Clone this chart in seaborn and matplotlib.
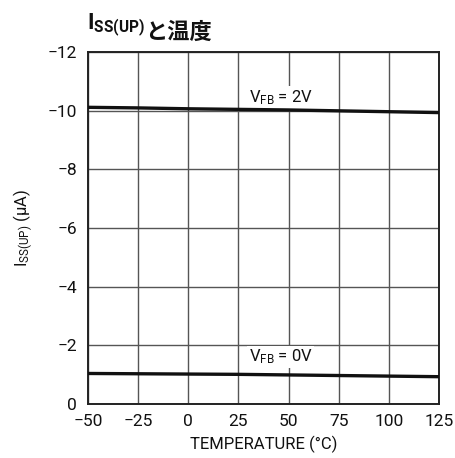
import matplotlib
matplotlib.use("Agg")
import matplotlib.pyplot as plt
import seaborn as sns
import pandas as pd

# Soft-start pull-up current vs temperature
temperature = [-50, -25, 0, 25, 50, 75, 100, 125]
iss_vfb_2v = [-10.12, -10.10, -10.07, -10.05, -10.03, -10.00, -9.97, -9.94]
iss_vfb_0v = [-1.04, -1.03, -1.02, -1.01, -0.99, -0.97, -0.95, -0.93]
series_labels = ["$V_{FB}$ = 2V", "$V_{FB}$ = 0V"]
x_ticks = [-50, -25, 0, 25, 50, 75, 100, 125]
y_ticks = [0, -2, -4, -6, -8, -10, -12]

sns.set_theme(style="white")
plt.rcParams["font.family"] = ["Roboto", "Noto Sans CJK JP", "DejaVu Sans"]
plt.rcParams["mathtext.fontset"] = "custom"
plt.rcParams["mathtext.rm"] = "Roboto"
plt.rcParams["mathtext.it"] = "Roboto"
plt.rcParams["mathtext.bf"] = "Roboto:bold"

df = pd.DataFrame({
    "temp": temperature * 2,
    "iss": iss_vfb_2v + iss_vfb_0v,
    "cond": [series_labels[0]] * len(temperature) + [series_labels[1]] * len(temperature),
})

fig = plt.figure(figsize=(4.56, 4.58), dpi=100)
ax = fig.add_axes([0.193, 0.118, 0.770, 0.768])

sns.lineplot(data=df, x="temp", y="iss", hue="cond",
             palette=["#111111", "#111111"], linewidth=2.4,
             legend=False, ax=ax, zorder=3)

ax.set_xlim(-50, 125)
ax.set_ylim(0, -12)
ax.set_xticks(x_ticks)
ax.set_yticks(y_ticks)
ax.set_xticklabels([str(t).replace("-", "\u2212") for t in x_ticks])
ax.set_yticklabels([str(t).replace("-", "\u2212") for t in y_ticks])
ax.tick_params(axis="x", length=0, labelsize=12.5, colors="#111111", pad=7)
ax.tick_params(axis="y", length=0, labelsize=12.5, colors="#111111", pad=8)
ax.grid(True, color="#555555", linewidth=1.0)

for s in ax.spines.values():
    s.set_color("#222222")
    s.set_linewidth(1.4)
    s.set_visible(True)

ax.set_xlabel("TEMPERATURE (°C)", fontsize=12, color="#111111", labelpad=5)
ax.set_ylabel("$I_{SS(UP)}$ (μA)", fontsize=12, color="#111111", labelpad=9)

# Curve annotations
box = dict(facecolor="white", edgecolor="none", pad=1.5)
ax.text(30, -10.45, series_labels[0], fontsize=12, color="#111111",
        ha="left", va="center", bbox=box, zorder=2)
ax.text(30, -1.6, series_labels[1], fontsize=12, color="#111111",
        ha="left", va="center", bbox=box, zorder=2)

# Title: subscripted symbol, then the Japanese part placed right after it
t1 = fig.text(0.19, 0.935, "$\\mathregular{I_{SS(UP)}}$", fontsize=16,
              fontweight="bold", color="#111111", ha="left", va="baseline")
fig.canvas.draw()
ax.annotate("と温度", xy=(1, 0), xycoords=t1, xytext=(0, 0),
            textcoords="offset points", fontsize=16, fontweight="bold",
            family=["Noto Sans CJK JP", "DejaVu Sans"], color="#111111",
            ha="left", va="baseline", annotation_clip=False)

fig.savefig("out.png", dpi=100)
